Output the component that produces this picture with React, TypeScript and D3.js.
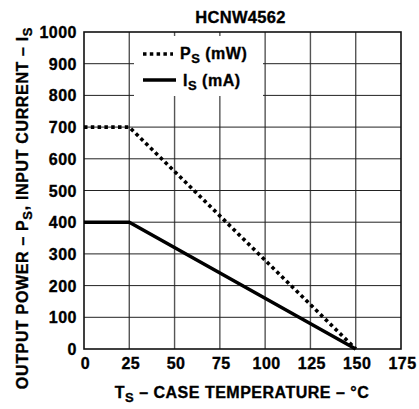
import React from "react";
import * as d3 from "d3";

const temps = [0, 25, 150];
const psValues = [700, 700, 0];
const isValues = [400, 400, 0];
const xTicks = [0, 25, 50, 75, 100, 125, 150, 175];
const yTicks = [0, 100, 200, 300, 400, 500, 600, 700, 800, 900, 1000];
const title = "HCNW4562";

const W = 419;
const H = 409;
const FONT = "'Liberation Sans', Arial, Helvetica, sans-serif";

export default function App() {
  const x = d3.scaleLinear().domain([0, 175]).range([84, 401]);
  const y = d3.scaleLinear().domain([0, 1000]).range([349, 32]);
  const psData = temps.map((t, i) => [t, psValues[i]] as [number, number]);
  const isData = temps.map((t, i) => [t, isValues[i]] as [number, number]);
  const line = d3
    .line<[number, number]>()
    .x((d) => x(d[0]))
    .y((d) => y(d[1]));

  const txt = {
    fontFamily: FONT,
    fontWeight: 700,
    fontSize: 16,
    letterSpacing: 0.5,
    stroke: "#000",
    strokeWidth: 0.35,
  } as React.CSSProperties;

  return (
    <svg
      width={W}
      height={H}
      style={{ position: "absolute", left: 0, top: 0, background: "#fff" }}
    >
      <rect x={0} y={0} width={W} height={H} fill="#fff" />
      {/* grid */}
      {xTicks.slice(1, -1).map((t) => (
        <line
          key={"gx" + t}
          x1={x(t)}
          x2={x(t)}
          y1={y(1000)}
          y2={y(0)}
          stroke="#555"
          strokeWidth={1.4}
        />
      ))}
      {yTicks.slice(1, -1).map((t) => (
        <line
          key={"gy" + t}
          x1={x(0)}
          x2={x(175)}
          y1={y(t)}
          y2={y(t)}
          stroke="#222"
          strokeWidth={1}
        />
      ))}
      {/* legend background */}
      <rect x={134} y={36} width={129} height={60} fill="#fff" />
      {/* frame */}
      <rect
        x={x(0)}
        y={y(1000)}
        width={x(175) - x(0)}
        height={y(0) - y(1000)}
        fill="none"
        stroke="#111"
        strokeWidth={1.6}
      />
      {/* series */}
      <path
        d={line(psData) || ""}
        fill="none"
        stroke="#000"
        strokeWidth={3.6}
        strokeDasharray="3.5 3.3"
      />
      <path d={line(isData) || ""} fill="none" stroke="#000" strokeWidth={3.4} />
      {/* legend */}
      <line
        x1={143}
        x2={173}
        y1={54}
        y2={54}
        stroke="#000"
        strokeWidth={3.6}
        strokeDasharray="3.5 3.3"
      />
      <text x={180} y={59} style={txt}>
        P<tspan fontSize={13} dy={4}>S</tspan>
        <tspan dy={-4}> (mW)</tspan>
      </text>
      <line x1={143} x2={176} y1={80} y2={80} stroke="#000" strokeWidth={3.4} />
      <text x={183} y={86} style={txt}>
        I<tspan fontSize={13} dy={4}>S</tspan>
        <tspan dy={-4}> (mA)</tspan>
      </text>
      {/* y ticks */}
      {yTicks.map((t) => (
        <text
          key={"yt" + t}
          x={77}
          y={y(t) + 6}
          textAnchor="end"
          style={txt}
        >
          {t}
        </text>
      ))}
      {/* x ticks */}
      {xTicks.map((t) => (
        <text
          key={"xt" + t}
          x={x(t) + 1.5}
          y={369}
          textAnchor="middle"
          style={txt}
        >
          {t}
        </text>
      ))}
      {/* title */}
      <text
        x={240.5}
        y={23}
        textAnchor="middle"
        style={{ ...txt, fontSize: 16.5, letterSpacing: 0.3 }}
      >
        {title}
      </text>
      {/* x axis label */}
      <text x={242} y={398} textAnchor="middle" style={txt}>
        T<tspan fontSize={13} dy={4}>S</tspan>
        <tspan dy={-4}> – CASE TEMPERATURE – °C</tspan>
      </text>
      {/* y axis label */}
      <text
        transform="translate(28,208) rotate(-90)"
        textAnchor="middle"
        style={{ ...txt, letterSpacing: 0.65 }}
      >
        OUTPUT POWER – P<tspan fontSize={13} dy={4}>S</tspan>
        <tspan dy={-4}>, INPUT CURRENT – I</tspan>
        <tspan fontSize={13} dy={4}>S</tspan>
      </text>
    </svg>
  );
}
